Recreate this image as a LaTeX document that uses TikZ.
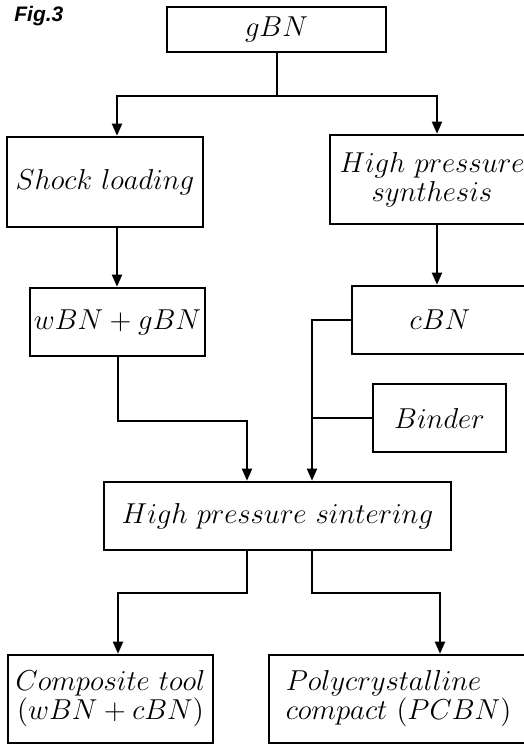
\documentclass[tikz,border=0pt]{standalone}
\usepackage{fontspec}
\newfontfamily\figfont{Liberation Sans}
\usetikzlibrary{arrows.meta}
\tikzset{
  box/.style 2 args={draw,line width=1.3pt,inner sep=2pt,minimum width=#1*0.5pt,minimum height=#2*0.5pt,font=\fontsize{14}{14.5}\selectfont},
  link/.style={line width=1pt},
  arr/.style={link,-{Triangle[length=6pt,width=5pt]}},
}
\begin{document}
\begin{tikzpicture}[x=0.5pt,y=-0.5pt]
  \useasboundingbox (0,0) rectangle (524,745);
  \clip (0,0) rectangle (524,745);
  \node[anchor=north west,inner sep=0,font=\figfont\bfseries\itshape\fontsize{10.5}{12}\selectfont] (fig) at (14,6) {Fig.3};
  % boxes
  \node[box={219}{45}] (gbn) at (276.5,29.5) {$gBN$};
  \node[box={196}{90}] (shock) at (105,182) {$Shock\ loading$};
  \node[box={204}{89},align=center] (hps) at (432,179.5) {$High\ pressure$\\$synthesis$};
  \node[box={175}{68}] (wgbn) at (117.5,322) {$wBN+gBN$};
  \node[box={176}{68}] (cbn) at (440,320) {$cBN$};
  \node[box={133}{68}] (binder) at (439.5,418) {$Binder$};
  \node[box={347}{68}] (hpsint) at (277.5,516) {$High\ pressure\ sintering$};
  \node[box={205}{88},align=center] (comp) at (110.5,699) {$Composite\ tool$\\$(wBN+cBN)$};
  \node[box={259}{88},align=left] (poly) at (398.5,699) {$Polycrystalline$\\$compact\ (PCBN)$};
  % connectors
  \coordinate (split) at (276.5,96);
  \draw[link] (gbn.south) -- (split);
  \draw[arr] (split) -| ([xshift=6pt]shock.north);
  \draw[arr] (split) -| ([xshift=2.5pt]hps.north);
  \draw[arr] ([xshift=6pt]shock.south) -- ([xshift=6pt]shock.south |- wgbn.north);
  \draw[arr] ([xshift=2.5pt]hps.south) -- ([xshift=2.5pt]hps.south |- cbn.north);
  \coordinate (merge) at (312,320);
  \draw[arr] (cbn.west) -- (merge) -- (merge |- hpsint.north);
  \draw[link] (binder.west) -- (binder.west -| merge);
  \coordinate (bend) at (247,421);
  \draw[arr] (wgbn.south) |- (bend) -- (bend |- hpsint.north);
  \coordinate (outl) at (247,593);
  \coordinate (outr) at (312,593);
  \draw[arr] (outl |- hpsint.south) -- (outl) -| ([xshift=3.75pt]comp.north);
  \draw[arr] (outr |- hpsint.south) -- (outr) -| ([xshift=20.75pt]poly.north);
\end{tikzpicture}
\end{document}
